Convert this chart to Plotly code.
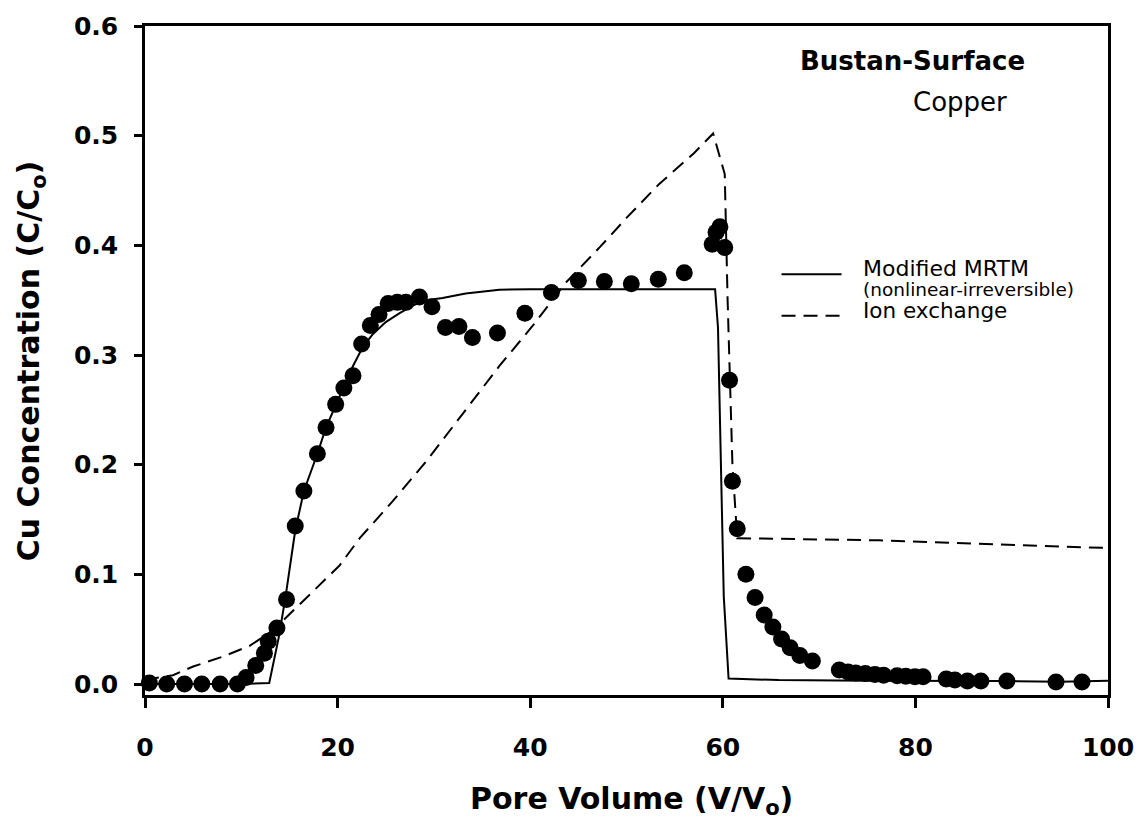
import plotly.graph_objects as go

# Measured copper breakthrough data (Bustan surface soil)
obs_pv = [0.45, 2.25, 4.1, 5.9, 7.8, 9.6, 10.5, 11.5, 12.4, 12.8, 13.7, 14.7,
          15.6, 16.5, 17.9, 18.8, 19.8, 20.65, 21.6, 22.5, 23.4, 24.3, 25.25,
          26.2, 27.1, 28.5, 29.8, 31.2, 32.6, 34.0, 36.6, 39.45, 42.2, 45.0,
          47.7, 50.5, 53.3, 56.0, 58.9, 59.3, 59.7, 60.2, 60.7, 61.0, 61.5,
          62.4, 63.35, 64.3, 65.2, 66.1, 67.0, 68.0, 69.3, 72.1, 73.0, 73.8,
          74.8, 75.8, 76.7, 78.1, 79.0, 79.95, 80.8, 83.2, 84.1, 85.4, 86.8,
          89.5, 94.6, 97.3]
obs_c = [0.001, 0.0, 0.0, 0.0, 0.0, 0.0, 0.006, 0.017, 0.028, 0.039, 0.051, 0.077,
         0.144, 0.176, 0.210, 0.234, 0.255, 0.270, 0.281, 0.310, 0.327, 0.337, 0.347,
         0.348, 0.348, 0.353, 0.344, 0.325, 0.326, 0.316, 0.320, 0.338, 0.357, 0.368,
         0.367, 0.365, 0.369, 0.375, 0.401, 0.412, 0.417, 0.398, 0.277, 0.185, 0.1415,
         0.100, 0.079, 0.063, 0.052, 0.041, 0.033, 0.026, 0.021, 0.0127, 0.011, 0.010,
         0.0097, 0.0088, 0.008, 0.0075, 0.007, 0.0066, 0.0066, 0.0045, 0.0036, 0.0027, 0.0027,
         0.0027, 0.0018, 0.0018]

# Modified MRTM (nonlinear-irreversible) simulation
mrtm_pv = [0, 5, 10, 12.9, 13.9, 14.6, 15.0, 15.6, 16.5, 17.9, 18.8, 19.8, 20.6,
           21.6, 22.6, 23.65, 25.0, 26.4, 27.8, 29.2, 30.9, 33.3, 36.8, 40, 45,
           50, 55, 59.2, 59.5, 59.8, 60.1, 60.6, 65.8, 75, 85, 89.5, 95, 100]
mrtm_c = [0, 0, 0, 0.001, 0.043, 0.08, 0.103, 0.14, 0.176, 0.21, 0.234, 0.254, 0.270,
          0.290, 0.307, 0.319, 0.330, 0.338, 0.345, 0.350, 0.352, 0.356, 0.3595, 0.360, 0.360,
          0.360, 0.360, 0.360, 0.325, 0.2, 0.08, 0.005, 0.0036, 0.003, 0.003, 0.0027, 0.002, 0.003]

# Ion exchange model simulation
ion_pv = [0, 2.9, 5.0, 8.1, 10.9, 13.3, 15.4, 18.1, 20.2, 22.3, 25.7, 29.2, 32.6,
          36.8, 40.2, 43.7, 47.3, 50, 53.4, 57, 59.0, 60.2, 60.5, 61.0, 61.5, 76.2, 100]
ion_c = [0.004, 0.008, 0.016, 0.025, 0.035, 0.049, 0.067, 0.09, 0.108, 0.133, 0.1665,
         0.203, 0.242, 0.29, 0.326, 0.366, 0.399, 0.425, 0.456, 0.484, 0.502, 0.465,
         0.35, 0.2, 0.133, 0.131, 0.124]

x_ticks = [0, 20, 40, 60, 80, 100]
y_ticks = [0.0, 0.1, 0.2, 0.3, 0.4, 0.5, 0.6]

FONT = "DejaVu Sans"

fig = go.Figure()
fig.add_trace(go.Scatter(x=mrtm_pv, y=mrtm_c, mode="lines",
                         line=dict(color="black", width=2), name="Modified MRTM"))
fig.add_trace(go.Scatter(x=ion_pv, y=ion_c, mode="lines",
                         line=dict(color="black", width=2, dash="14px,8px"),
                         name="Ion exchange"))
fig.add_trace(go.Scatter(x=obs_pv, y=obs_c, mode="markers",
                         marker=dict(color="black", size=17, line=dict(width=0)),
                         cliponaxis=False, name="Observed"))

axis_common = dict(showline=True, linecolor="black", linewidth=2.5, mirror=True,
                   showgrid=False, zeroline=False, ticks="outside",
                   tickcolor="black", tickwidth=2.5,
                   tickfont=dict(family=FONT, size=25, color="black", weight="bold"))

fig.update_xaxes(range=[0, 100], tickvals=x_ticks, ticklen=10,
                 ticklabelstandoff=18, **axis_common)
fig.update_yaxes(range=[-0.01, 0.6], tickvals=y_ticks, tickformat=".1f",
                 ticklen=8, ticklabelstandoff=11, **axis_common)

# Legend samples drawn in paper space
fig.add_shape(type="line", xref="paper", yref="paper", x0=0.661, x1=0.7233,
              y0=0.629, y1=0.629, line=dict(color="black", width=2))
fig.add_shape(type="line", xref="paper", yref="paper", x0=0.661, x1=0.7233,
              y0=0.567, y1=0.567, line=dict(color="black", width=2, dash="14px,8px"))

def note(text, x, y, size, bold=False, xanchor="left", angle=0):
    fig.add_annotation(text=text, x=x, y=y, xref="paper", yref="paper",
                       xanchor=xanchor, yanchor="middle", showarrow=False,
                       textangle=angle,
                       font=dict(family=FONT, size=size, color="black",
                                 weight="bold" if bold else "normal"))

note("Bustan-Surface", 0.797, 0.948, 26, bold=True, xanchor="center")
note("Copper", 0.846, 0.886, 26, xanchor="center")
note("Modified MRTM", 0.743, 0.638, 22)
note("(nonlinear-irreversible)", 0.743, 0.6056, 18.5)
note("Ion exchange", 0.743, 0.5746, 21.5)

note("Cu Concentration (C/C<sub>o</sub>)", -0.1181, 0.4993, 30, bold=True,
     xanchor="center", angle=-90)
note("Pore Volume (V/V<sub>o</sub>)", 0.5057, -0.157, 30, bold=True,
     xanchor="center")

fig.update_layout(width=1146, height=820, showlegend=False,
                  plot_bgcolor="white", paper_bgcolor="white",
                  margin=dict(l=145, r=36, t=18, b=125, pad=0))

fig.write_html("out.html")
